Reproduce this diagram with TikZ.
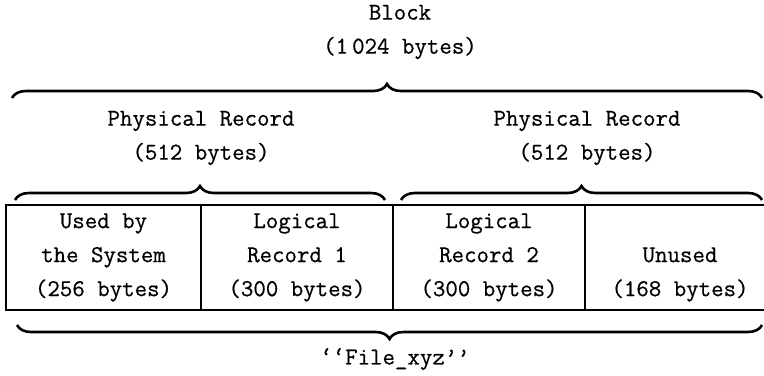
\documentclass[tikz,border=0pt]{standalone}
\usepackage{fontspec}
\setmonofont[FakeBold=0.6]{Latin Modern Mono}
\usetikzlibrary{decorations.pathreplacing}
\begin{document}
\begin{tikzpicture}[x=0.5pt,y=-0.5pt,
  txt/.style={font=\fontsize{12.1}{17}\ttfamily, inner sep=0pt, align=center},
  cell/.style={txt, draw, line width=0.8pt, minimum height=52.5pt, anchor=center},
  bracedeco/.style={line width=1.3pt, decorate, decoration={brace, amplitude=7pt}},
]
\useasboundingbox (0,0) rectangle (764,375);
% labels
\node[txt] (block) at (400,32) {Block\\(1\,024 bytes)};
\node[txt] (pr1) at (201,138) {Physical Record\\(512 bytes)};
\node[txt] (pr2) at (587,138) {Physical Record\\(512 bytes)};
\node[txt] (file) at (395,359) {‘‘File\_xyz’’};
% cells
\node[cell, minimum width=97.5pt] (c1) at (103.5,257.5) {Used by\\the System\\(256 bytes)};
\node[cell, minimum width=96pt] (c2) at (297,257.5) {Logical\\Record 1\\(300 bytes)};
\node[cell, minimum width=96pt] (c3) at (489,257.5) {Logical\\Record 2\\(300 bytes)};
\node[cell, minimum width=95pt] (c4) at (680,257.5) {\vphantom{Logical}\\Unused\\(168 bytes)};
% brace end points
\coordinate (tbL) at (12,98);
\coordinate (tbR) at (762,98);
\coordinate (s1L) at (15,200);
\coordinate (s1R) at (385,200);
\coordinate (s2L) at (401,200);
\coordinate (s2R) at (762,200);
\coordinate (bbL) at (17,325);
\coordinate (bbR) at (762,325);
\draw[bracedeco] (tbL) -- (tbR);
\draw[bracedeco] (s1L) -- (s1R);
\draw[bracedeco] (s2L) -- (s2R);
\draw[bracedeco] (bbR) -- (bbL);
\end{tikzpicture}
\end{document}
